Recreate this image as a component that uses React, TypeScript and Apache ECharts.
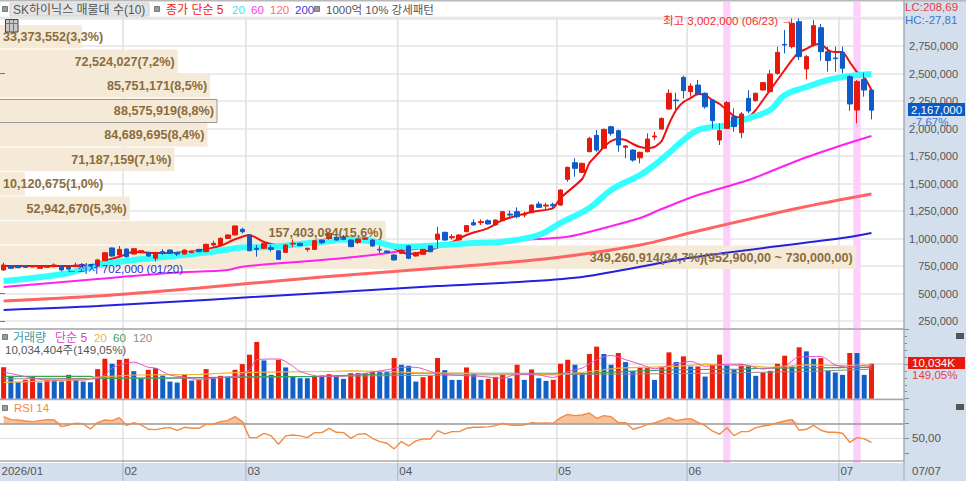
import React, { useEffect, useRef } from "react";
import * as echarts from "echarts";

const FONT = '"Liberation Sans","Noto Sans CJK KR",sans-serif';
const RED = "#e8190c";
const BLUE = "#0f5bc8";

// [open, close, low, high] in thousands of won
const candles = [
  [714,759,705,780],[744,729,722,750],[753,735,730,760],[750,738,735,756],[741,753,738,756],[729,753,725,756],[738,753,735,758],[744,759,741,774],
  [750,714,702,756],[738,722,716,744],[744,759,741,780],[750,759,747,765],[759,750,745,768],[750,805,745,815],[798,871,795,875],[914,841,835,918],
  [850,901,845,932],[904,835,825,908],[859,907,855,912],[871,889,868,895],[871,841,832,878],[820,871,790,878],[880,865,850,904],[895,865,860,900],
  [871,859,840,878],[859,895,855,900],[871,880,868,890],[901,880,876,906],[880,947,876,952],[941,956,925,980],[941,1001,936,1010],[1001,1032,996,1038],
  [1032,1114,1028,1120],[1083,1062,1047,1098],[1032,889,884,1038],[911,901,835,941],[911,956,905,960],[917,901,880,941],[889,811,805,893],[874,941,868,947],
  [950,956,920,992],[956,935,930,962],[901,911,880,917],[901,980,897,985],[986,962,950,990],[1001,1047,990,1052],[1011,986,980,1016],[1017,992,985,1032],
  [986,926,920,992],[965,995,950,1000],[993,1001,988,1005],[986,932,925,992],[901,895,865,932],[886,874,868,892],[850,805,800,856],[865,895,860,900],
  [932,820,812,938],[841,871,836,878],[856,901,850,906],[932,880,875,938],[992,1040,910,1107],[1056,986,980,1062],[1007,1017,990,1040],[986,1032,980,1038],
  [1062,1117,1056,1122],[1144,1123,1118,1174],[1144,1153,1123,1174],[1162,1132,1128,1174],[1123,1168,1118,1174],[1162,1244,1157,1250],[1222,1213,1183,1253],
  [1244,1198,1183,1283],[1213,1219,1192,1244],[1235,1304,1230,1310],[1313,1283,1278,1335],[1295,1304,1265,1325],[1310,1298,1275,1325],[1304,1441,1298,1447],
  [1538,1647,1515,1653],[1689,1638,1562,1729],[1601,1683,1596,1690],[1789,1910,1784,1925],[1938,1804,1789,1986],[1820,1992,1815,2000],[2016,1956,1935,2025],
  [1980,1850,1789,1990],[1829,1841,1729,1850],[1804,1713,1698,1810],[1734,1783,1683,1790],[1789,1904,1783,1956],[1923,1932,1895,1970],[1995,2092,1990,2100],
  [2177,2320,2170,2356],[2259,2253,2144,2326],[2465,2344,2274,2480],[2335,2386,2289,2410],[2395,2314,2300,2441],[2320,2198,2180,2328],[2259,2071,2001,2265],
  [1895,1980,1850,2047],[2001,2235,1995,2250],[2107,2017,1971,2183],[1962,2132,1911,2150],[2274,2159,2138,2350],[2253,2320,2245,2326],[2350,2417,2345,2423],
  [2335,2495,2328,2532],[2501,2692,2490,2744],[2765,2759,2683,2895],[2744,2956,2728,3001],[2971,2653,2622,3002],[2541,2653,2447,2668],[2759,2935,2744,2986],
  [2916,2698,2617,2950],[2698,2617,2517,2744],[2641,2635,2517,2744],[2689,2547,2501,2744],[2471,2223,2162,2486],[2168,2426,2047,2441],[2447,2350,2289,2507],
  [2350,2167,2083,2356],
];

// [index, value] points, thousands of won
const ma5 = [[0,750],[6,750],[9,750],[12,755],[13,777],[16,834],[18,880],[20,871],[23,868],[25,877],[27,889],[30,934],[32,993],[34,1032],[36,968],[38,941],[41,959],[44,986],[48,1004],[50,1004],[53,941],[56,860],[58,877],[62,968],[64,1032],[67,1095],[69,1168],[73,1241],[76,1277],[77,1368],[80,1541],[81,1686],[82,1759],[83,1832],[84,1886],[85,1904],[86,1895],[87,1859],[88,1832],[89,1823],[90,1832],[91,1886],[92,2041],[93,2168],[94,2241],[95,2277],[96,2314],[97,2304],[98,2259],[99,2223],[100,2168],[101,2113],[102,2100],[103,2104],[104,2168],[105,2259],[106,2350],[107,2441],[108,2532],[109,2622],[110,2695],[111,2723],[112,2759],[113,2768],[114,2713],[115,2695],[116,2695],[117,2604],[118,2513],[119,2468],[120,2350]];
const ma20 = [[0,614],[4,641],[9,686],[13,759],[18,804],[25,850],[30,890],[33,918],[37,923],[41,950],[44,968],[47,990],[51,975],[55,925],[59,934],[65,959],[69,971],[74,1032],[77,1141],[81,1277],[84,1441],[88,1577],[90,1668],[92,1777],[94,1895],[96,1986],[98,2014],[100,2032],[103,2095],[106,2168],[108,2304],[111,2377],[114,2441],[117,2477],[120,2495]];
const ma60 = [[0,559],[13,632],[23,686],[31,714],[33,744],[44,804],[51,850],[58,914],[65,959],[71,986],[78,1016],[83,1095],[88,1186],[91,1268],[96,1395],[103,1532],[110,1714],[116,1850],[120,1932]];
const ma120 = [[0,432],[13,477],[27,550],[44,650],[62,741],[76,823],[88,941],[96,1068],[110,1277],[120,1404]];
const ma200 = [[0,350],[13,386],[44,505],[60,568],[79,643],[95,826],[116,1004],[120,1050]];

// volume in millions of shares
const volume = [9.06,6.36,4.72,5.4,6.36,4.63,5.4,5.4,4.92,6.84,5.4,4.92,4.72,8.48,11.47,10.03,11.18,11.47,7.9,5.88,8.29,8.77,6.65,4.92,4.63,6.84,5.2,5.4,8.48,5.88,6.56,6.36,8.29,9.93,12.63,16.29,10.99,6.84,11.18,8.97,6.36,5.88,5.88,6.36,
  6.65,7.04,6.36,5.69,7.33,7.33,7.33,7.9,7.62,7.62,11.66,9.74,9.45,4.92,6.17,6.56,11.66,8.19,5.4,5.4,8.97,7.33,5.4,5.69,6.27,6.84,5.88,9.74,5.4,8.39,5.88,5.11,5.4,10.03,11.18,9.74,7.33,12.82,14.94,12.82,9.74,13.11,10.51,8,8.97,8.77,5.4,9.06,13.3,10.51,12.15,9.25,9.25,6.36,9.74,12.63,9.74,8.29,9.93,9.54,6.56,7.52,8,10.03,12.34,9.25,14.75,13.59,11.47,11.66,8,7.52,6.84,13.11,13.11,6.84,10.03];
const volumeSides = "RBBRRBRBBRBBBRRBRRBBRRBBBRBRRBRBRRRRBBRBBBBRBRBBRRRRBBRBBBRRRBBBRBBRRRBRBRBBRRRBBRRBBRBBRRBRRBRBRBRRBBRBBRRRRBRBBRBBBRBBR";

const volMa5 = [[0,7.6],[2,6.8],[4,5.9],[6,5.4],[9,5.4],[11,5.4],[13,5.9],[14,6.8],[15,8.8],[17,10.2],[18,10.5],[20,9],[21,8.8],[23,6.8],[25,6.2],[27,5.4],[29,5.9],[32,6.4],[34,8.3],[35,11.2],[38,11.4],[40,9.3],[41,7.8],[44,6.4],[48,6.7],[53,8.3],[55,9],[57,9],[59,7.8],[60,7.3],[62,6.8],[66,6.4],[69,5.9],[71,7],[74,6.8],[76,6.1],[78,7.8],[80,8.8],[82,11.2],[84,12.4],[86,11.2],[88,9.9],[90,8.6],[92,9.5],[95,10.7],[97,9.3],[100,9.9],[102,9.9],[105,8.5],[106,8.8],[108,9.3],[110,12],[113,12.1],[115,9.7],[117,9],[118,9.5],[120,9.3]];
const volMa20 = [[0,4.7],[11,5.4],[13,6.2],[18,6.8],[27,7],[32,7.5],[36,7.6],[44,7.8],[48,8],[53,7.8],[57,7.5],[71,7.1],[76,6.8],[81,7.8],[85,8.8],[88,9],[93,9.3],[97,9.9],[102,9.5],[106,9],[111,9.7],[116,9.5],[120,9.7]];
const volMa60 = [[0,6.4],[12,6.4],[13,5.9],[23,5.9],[32,6.2],[44,6.4],[48,6.8],[57,7.3],[75,7.3],[81,7.3],[88,8],[93,8.3],[102,8.5],[106,8.8],[120,9]];
const volMa120 = [[0,5.7],[23,5.9],[44,6.4],[62,6.8],[81,7],[88,7.1],[97,7.3],[111,7.8],[120,8.5]];

const rsi = [79.5,75.5,75,73.6,72.7,74.1,75.5,75,65.9,68.2,70.5,70,62.7,71.4,75,74.1,78.2,67.3,71.4,68.2,62.3,61.8,63.6,64.5,60.9,65,63.6,63.6,69.1,69.5,72.7,74.5,79.5,72.7,50.9,50.9,56.8,53.2,41.8,53.2,54.5,53.2,50.9,57.7,
  57.7,63.6,58.2,57.7,50,55.5,56.4,50,45.5,43.2,35.5,45.5,39.5,46.4,49.1,49.1,60.5,55.9,59.1,59.1,63.6,65,65,65.5,67.3,70.5,68.2,67.7,68.2,71.4,70.5,70.9,70.5,78.2,82.7,80.9,81.8,84.5,77.3,80.9,79.5,71.4,71.4,62.3,65,69.1,70.9,74.5,78.2,74.1,75.9,76.8,71.8,67.3,60,55.5,64.5,53.6,59.1,59.1,64.5,66.8,68.2,71.4,73.6,75.9,60.9,62.3,67.7,60.9,58.2,58.2,56.8,44.5,50.9,49.1,44.5];

// volume-by-price profile, top bucket first
const profileVolumes = [33373552,72524027,85751171,88575919,84689695,71187159,10120675,52942670,157403084,349260914];
const profilePercents = ["3,3","7,2","8,5","8,8","8,4","7,1","1,0","5,3","15,6","34,7"];
const profileEdges = [2941,2718,2495,2273,2050,1827,1604,1382,1159,936,714];
const profileSuffix = "(952,900,00 ~ 730,000,00)";

const monthStarts = [0,17,34,55,77,95,116];
const monthLabels = ["2026/01","02","03","04","05","06","07"];
const highlighted = [100,118];
const barSlots = 125;

const categories = Array.from({ length: barSlots }, (_, i) => String(i));
const fmt = (n: number) => n.toLocaleString("en-US");

function App() {
  const ref = useRef<HTMLDivElement>(null);
  useEffect(() => {
    document.body.style.margin = "0";
    const chart = echarts.init(ref.current!, null, { renderer: "svg" });
    const lineOf = (name: string, data: any, color: string, width: number, z: number, xi = 0, extra: any = {}) => ({
      name, type: "line", data, xAxisIndex: xi, yAxisIndex: xi, symbol: "none", silent: true, z,
      lineStyle: { color, width }, clip: false, ...extra,
    });
    const scaleK = (rows: number[][]) => rows.map(r => [r[0], r[1] * 1000]);
    const scaleM = (rows: number[][]) => rows.map(r => [r[0], r[1] * 1e6]);
    const t = (text: string, x: number, y: number, fill: string, opts: any = {}) => ({
      type: "text", x, y, z: 50, silent: true,
      style: { text, fill, font: `${opts.weight || ""} ${opts.size || 11.5}px ${FONT}`, textAlign: opts.align || "left", textVerticalAlign: "middle" },
    });
    const r = (x: number, y: number, width: number, height: number, fill: string, stroke?: string, z = -5) => ({
      type: "rect", z, silent: true, shape: { x, y, width, height }, style: { fill, stroke: stroke || "none", lineWidth: 1 },
    });
    const hl = (y: number, color: string, w = 1.5, x2 = 904) => ({
      type: "line", z: 20, silent: true, shape: { x1: 0, y1: y, x2, y2: y }, style: { stroke: color, lineWidth: w },
    });
    const sq = (x: number, y: number) => r(x - 2.5, y - 2.5, 5, 5, "#9a9a9a", "#777", 40);

    const option: any = {
      animation: false,
      backgroundColor: "#ffffff",
      textStyle: { fontFamily: FONT },
      grid: [
        { left: 0, width: 904, top: 18.5, height: 302.5 },
        { left: 0, width: 904, top: 329, height: 69.7 },
        { left: 0, width: 904, top: 409, height: 43.9 },
      ],
      xAxis: [
        ...[0, 1, 2].map(i => ({
          type: "category", gridIndex: i, data: categories, boundaryGap: true,
          axisLine: { show: false }, axisTick: { show: false }, axisLabel: { show: false }, splitLine: { show: false },
        })),
        { type: "value", gridIndex: 0, min: 0, max: 369000000, show: false, position: "top", splitLine: { show: false } },
      ],
      yAxis: [
        {
          type: "value", gridIndex: 0, position: "right", min: 250000, max: 3000000, interval: 250000,
          axisLine: { show: false }, axisTick: { show: true, length: 5, lineStyle: { color: "#777" } },
          axisLabel: { align: "right", margin: 54, color: "#555", fontSize: 11, fontFamily: FONT, showMaxLabel: false, formatter: (v: number) => fmt(v) },
          splitLine: { show: true, lineStyle: { color: "#e4e4e4", width: 1.5 } },
        },
        {
          type: "value", gridIndex: 1, position: "right", min: 0, max: 20000000, interval: 10000000,
          axisLine: { show: false }, axisTick: { show: true, length: 5, lineStyle: { color: "#888" } },
          minorTick: { show: true, splitNumber: 5, length: 3, lineStyle: { color: "#888" } },
          axisLabel: { show: false }, splitLine: { show: true, lineStyle: { color: "#dedede", width: 1.5 } },
        },
        {
          type: "value", gridIndex: 2, position: "right", min: 30, max: 90, interval: 20,
          axisLine: { show: false }, axisTick: { show: true, length: 5, lineStyle: { color: "#888" } },
          axisLabel: { margin: 8, color: "#555", fontSize: 11.5, fontFamily: FONT, formatter: (v: number) => (v === 50 ? "50,00" : "") },
          splitLine: { show: false },
        },
      ],
      series: [
        // month lines, running through all the panes
        {
          type: "custom", coordinateSystem: "cartesian2d", xAxisIndex: 0, yAxisIndex: 0, z: 1, silent: true, clip: false,
          encode: { x: 0, y: 1 },
          data: monthStarts.slice(1).map(i => [i, 1000000]),
          renderItem: (_: any, api: any) => {
            const c = api.coord([api.value(0), api.value(1)]);
            const b = api.size([1, 0])[0];
            const x = c[0] - b / 2;
            return { type: "group", children: [
              { type: "line", shape: { x1: x, y1: 18, x2: x, y2: 463 }, style: { stroke: "#e0e0e0", lineWidth: 1.5 } },
              { type: "line", shape: { x1: x, y1: 463, x2: x, y2: 481 }, style: { stroke: "#a9b3c0", lineWidth: 1 } },
            ] };
          },
        },
        // highlight bands
        {
          type: "custom", coordinateSystem: "cartesian2d", xAxisIndex: 0, yAxisIndex: 0, z: 2, silent: true, clip: false,
          encode: { x: 0, y: 1 },
          data: highlighted.map(i => [i, 1000000]),
          renderItem: (_: any, api: any) => {
            const c = api.coord([api.value(0), api.value(1)]);
            const b = api.size([1, 0])[0];
            return { type: "rect", shape: { x: c[0] - b / 2, y: 2, width: b, height: 461 }, style: { fill: "#fcd0fb" } };
          },
        },
        // volume-by-price bars, drawn over the bands
        {
          type: "custom", coordinateSystem: "cartesian2d", xAxisIndex: 3, yAxisIndex: 0, z: 3, silent: true, clip: false,
          encode: { x: 0, y: 1 },
          data: profileVolumes.map((v, i) => [v, profileEdges[i + 1] * 1000]),
          renderItem: (p: any, api: any) => {
            const b = api.coord([api.value(0), api.value(1)]);
            const a = api.coord([api.value(0), profileEdges[p.dataIndex] * 1000]);
            return { type: "rect", shape: { x: 0, y: a[1], width: b[0], height: b[1] - a[1] - 1 }, style: { fill: "#f5e9d8" } };
          },
        },
        lineOf("200", scaleK(ma200), "#2222dd", 2, 4, 0, { smooth: 0.3 }),
        lineOf("120", scaleK(ma120), "#ff6464", 3, 4, 0, { smooth: 0.3 }),
        lineOf("60", scaleK(ma60), "#ff22ee", 2, 4, 0, { smooth: 0.3 }),
        lineOf("5", scaleK(ma5), "#ee1111", 2, 5, 0, { smooth: 0.2 }),
        lineOf("20", scaleK(ma20), "#33ffff", 6, 6, 0, { smooth: 0.4 }),
        {
          type: "candlestick", name: "SK하이닉스", xAxisIndex: 0, yAxisIndex: 0, z: 7, silent: true, clip: false, barWidth: 5,
          data: candles.map(c => c.map(v => v * 1000)),
          itemStyle: { color: RED, color0: BLUE, borderColor: RED, borderColor0: BLUE, borderWidth: 1 },
        },
        // volume-by-price labels
        {
          type: "custom", coordinateSystem: "cartesian2d", xAxisIndex: 3, yAxisIndex: 0, z: 9, silent: true, clip: false,
          encode: { x: 0, y: 1 },
          data: profileVolumes.map((v, i) => [v, (profileEdges[i + 1] + profileEdges[i]) * 500]),
          renderItem: (p: any, api: any) => {
            const i = p.dataIndex;
            const a = api.coord([api.value(0), api.value(1)]);
            const label = `${fmt(profileVolumes[i])}(${profilePercents[i]}%)${i === profileVolumes.length - 1 ? profileSuffix : ""}`;
            const left = a[0] < 105;
            return { type: "text", x: left ? 3 : a[0] - 3, y: a[1],
              style: { text: label, fill: "#8a6d3b", font: `bold 12.6px ${FONT}`, textAlign: left ? "left" : "right", textVerticalAlign: "middle" } };
          },
        },
        // volume pane
        {
          type: "bar", name: "거래량", xAxisIndex: 1, yAxisIndex: 1, barWidth: 5, silent: true, z: 4,
          data: volume.map((v, i) => ({ value: v * 1e6, itemStyle: { color: volumeSides[i] === "R" ? "#ee1c0a" : "#1060c8" } })),
        },
        lineOf("v120", scaleM(volMa120), "#8e8e8e", 1, 5, 1),
        lineOf("v60", scaleM(volMa60), "#3aa655", 1.2, 5, 1),
        lineOf("v20", scaleM(volMa20), "#f2b33d", 1.2, 5, 1),
        lineOf("v5", scaleM(volMa5), "#e455cc", 1, 6, 1, { smooth: 0.3 }),
        // RSI pane
        lineOf("rsiFill", rsi.map(v => (v > 70 ? v : 70)), "rgba(0,0,0,0)", 0, 4, 2, { areaStyle: { origin: 70, color: "#f5c29c", opacity: 1 } }),
        lineOf("rsi", rsi, "#f58a42", 1.4, 6, 2, {
          markLine: { silent: true, symbol: "none", animation: false, label: { show: false },
            data: [
              { yAxis: 70, lineStyle: { color: "#999", width: 1.5, type: "solid" } },
              { yAxis: 50, lineStyle: { color: "#dedede", width: 1.2, type: "solid" } },
            ] },
        }),
        // month labels along the bottom strip
        {
          type: "custom", coordinateSystem: "cartesian2d", xAxisIndex: 2, yAxisIndex: 2, z: 10, silent: true, clip: false,
          encode: { x: 0, y: 1 },
          data: monthStarts.map(i => [i, 50]),
          renderItem: (p: any, api: any) => {
            const c = api.coord([api.value(0), api.value(1)]);
            const b = api.size([1, 0])[0];
            return { type: "text", x: c[0] - b / 2 + 1.5, y: 471,
              style: { text: monthLabels[p.dataIndex], fill: "#555", font: `11.5px ${FONT}`, textVerticalAlign: "middle" } };
          },
        },
      ],
      graphic: [
        r(904, 0, 62, 481, "#d3dfec"),
        r(0, 463, 966, 18, "#d3dfec"),
        hl(0.8, "#b8b8b8", 1.5, 966),
        hl(17.5, "#e4e4e4", 1.5),
        hl(329, "#a8a8a8", 1.6),
        hl(399.5, "#a8a8a8", 1.6),
        hl(461, "#a8a8a8", 1.6),
        { type: "line", z: 20, silent: true, shape: { x1: 904, y1: 0, x2: 904, y2: 463 }, style: { stroke: "#a3adb9", lineWidth: 1.5 } },
        { type: "line", z: 20, silent: true, shape: { x1: 904, y1: 463, x2: 904, y2: 481 }, style: { stroke: "#a3adb9", lineWidth: 1 } },
        // legends
        sq(5, 9),
        r(10, 3, 139, 13, "#e4e4e4", "#d0d0d0", 30),
        t("SK하이닉스 매물대 수(10)", 13, 10, "#555", { size: 12 }),
        sq(157, 9),
        t("종가 단순 5", 166, 10, "#f02020", { size: 12 }),
        t("20", 232, 10, "#30e8f0"),
        t("60", 251, 10, "#f040f0"),
        t("120", 270, 10, "#ff7070"),
        t("200", 295, 10, "#3838e8"),
        sq(317, 9),
        t("1000억 10% 강세패턴", 326, 10, "#555"),
        r(5.5, 19.5, 12.5, 12.5, "#c8c8c8", "#444", 40),
        { type: "line", z: 41, silent: true, shape: { x1: 9.5, y1: 20, x2: 9.5, y2: 32 }, style: { stroke: "#777", lineWidth: 1 } },
        { type: "line", z: 41, silent: true, shape: { x1: 13.5, y1: 20, x2: 13.5, y2: 32 }, style: { stroke: "#777", lineWidth: 1 } },
        { type: "line", z: 41, silent: true, shape: { x1: 6, y1: 23.5, x2: 18, y2: 23.5 }, style: { stroke: "#777", lineWidth: 1 } },
        sq(5, 337),
        t("거래량", 13, 338, "#3d9a9a", { size: 12 }),
        t("단순 5", 55, 338, "#e03fc8", { size: 12 }),
        t("20", 94, 338, "#f2b33d"),
        t("60", 113, 338, "#3aa655"),
        t("120", 133, 338, "#8e8e8e"),
        t("10,034,404주(149,05%)", 5, 350, "#555"),
        sq(5, 408),
        t("RSI 14", 14, 408, "#f58a42"),
        // annotations
        t("최고 3,002,000 (06/23)", 663, 21, "#f03030"),
        t("→", 781, 20, "#f03030", { size: 12 }),
        t("←최저 702,000 (01/20)", 66, 269, "#2a2ae0"),
        // right-hand readouts
        t("LC:208,69", 905, 7, "#e84040"),
        t("HC:-27,81", 905, 20, "#3a78d0"),
        r(908, 103, 57, 13, "#0a5bc4", undefined, 40),
        t("2,167,000", 911, 109.5, "#ffffff"),
        t("-7,67%", 912, 121.5, "#3a78d0"),
        r(908, 357, 57, 12, RED, undefined, 40),
        t("10,034K", 912, 363, "#ffffff"),
        t("149,05%", 912, 375, "#e84040"),
        r(956, 333, 8, 6, "#555", undefined, 40),
        r(956, 404, 8, 6, "#555", undefined, 40),
        t("07/07", 912, 471, "#555"),
        // the bucket holding the current price is boxed
        { type: "rect", z: 8, silent: true, shape: { x: -1, y: 99.5, width: 218, height: 23 }, style: { fill: "none", stroke: "#999", lineWidth: 1 } },
      ],
    };
    chart.setOption(option);
    return () => chart.dispose();
  }, []);
  return <div ref={ref} style={{ width: 966, height: 481, overflow: "hidden" }} />;
}

export default App;
